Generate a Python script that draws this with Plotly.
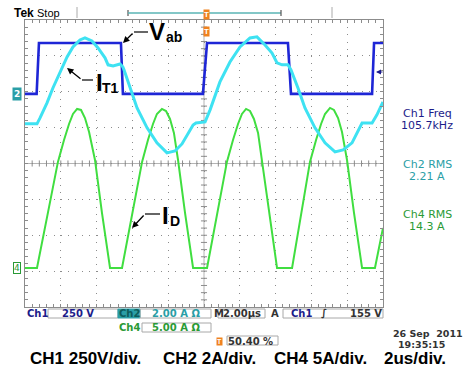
import plotly.graph_objects as go

# Scope: 2 us/div horizontally (10 div), 8 div vertically
CH1_SCALE = 250.0   # V/div
CH2_SCALE = 2.0     # A/div
CH4_SCALE = 5.0     # A/div
CH1_OFFSET = 1.94   # div, ground position
CH2_OFFSET = 1.94
CH4_OFFSET = -2.91

# Ch1: Vab (V)
vab_t = [0, 0.65, 0.78, 5.36, 5.47, 9.94, 10.17, 14.69, 14.86, 19.39, 19.50, 20.0]
vab_v = [0, 0, 355, 355, 0, 0, 355, 355, 0, 0, 355, 355]

# Ch2: I_T1 (A)
it1_t = [0, 0.67, 0.84, 1.23, 1.56, 1.96, 2.35, 2.68, 3.07, 3.35, 3.74, 4.08, 4.47, 4.64,
         4.92, 5.31, 5.47, 5.53, 5.87, 6.26, 6.82, 7.37, 7.93, 8.38, 8.77, 9.11, 9.39,
         9.55, 10.06, 10.34, 10.61, 10.89, 11.45, 12.01, 12.57, 12.96, 13.41, 13.80,
         14.08, 14.36, 14.69, 14.86, 15.25, 15.64, 16.20, 16.76, 17.32, 17.77, 18.27,
         18.72, 18.83, 19.39, 19.66, 20.0]
it1_a = [-1.67, -1.67, -1.34, -0.50, 0.33, 1.23, 2.06, 2.62, 3.01, 3.12, 2.95, 2.56, 2.01, 1.62,
         1.56, 1.67, 1.50, 1.34, 0.33, -0.78, -1.89, -2.73, -3.29, -3.18, -2.79, -2.23, -1.73,
         -1.62, -1.56, -0.89, -0.11, 0.67, 1.78, 2.62, 3.12, 3.18, 2.73, 2.28,
         1.73, 1.62, 1.62, 1.34, 0.33, -0.78, -1.89, -2.73, -3.23, -3.12, -2.73,
         -1.89, -1.62, -1.62, -1.17, -0.45]

# Ch4: I_D (A)
id_t = [0, 0.67, 1.29, 1.84, 2.18, 2.46, 2.68, 2.91, 3.13, 3.35, 3.58, 3.91, 4.30, 4.75,
        5.42, 5.98, 6.54, 6.87, 7.15, 7.37, 7.65, 7.88, 8.10, 8.32, 8.55, 8.94, 9.39,
        10.17, 10.73, 11.28, 11.62, 11.90, 12.12, 12.35, 12.57, 12.79, 13.02, 13.24, 13.63, 14.08,
        14.92, 15.42, 15.92, 16.26, 16.54, 16.76, 17.04, 17.26, 17.49, 17.71, 17.99, 18.38, 18.83,
        19.55, 20.0]
id_a = [0, 0, 7.80, 14.77, 17.83, 20.06, 21.45, 22.15, 22.01, 20.89, 18.94, 15.04, 7.66, 0,
        0, 7.38, 14.77, 17.83, 20.06, 21.45, 22.15, 21.87, 20.76, 18.81, 15.04, 7.66, 0,
        0, 7.38, 14.77, 17.83, 20.06, 21.45, 22.15, 21.87, 20.76, 18.81, 15.04, 7.66, 0,
        0, 7.38, 14.77, 17.83, 20.06, 21.45, 22.29, 22.01, 20.89, 18.94, 15.04, 7.66, 0,
        0, 5.57]

meas_labels = ["Ch1 Freq", "Ch2 RMS", "Ch4 RMS"]
meas_values = ["105.7kHz", "2.21 A", "14.3 A"]
caption = ["CH1 250V/div.", "CH2 2A/div.", "CH4 5A/div.", "2us/div."]

# ---------------- figure ----------------
W, H = 467, 371
L, R, T, B = 25, 84, 20, 64
PW, PH = W - L - R, H - T - B

def px(x):
    return (x - L) / PW

def py(y):
    return (H - B - y) / PH

C_BLUE = "#1e26d6"
C_CYAN = "#3ee2f2"
C_GREEN = "#40de40"
C_NAVY = "#1c1c8a"
C_TEAL = "#2a9ea6"
C_DGREEN = "#2a9a36"
C_ORANGE = "#f0821e"
FONT = "DejaVu Sans"

fig = go.Figure()
fig.add_trace(go.Scatter(x=id_t, y=[CH4_OFFSET + a / CH4_SCALE for a in id_a], mode="lines",
                         line=dict(color=C_GREEN, width=2), hoverinfo="skip"))
fig.add_trace(go.Scatter(x=vab_t, y=[CH1_OFFSET + v / CH1_SCALE for v in vab_v], mode="lines",
                         line=dict(color=C_BLUE, width=2.6), hoverinfo="skip"))
fig.add_trace(go.Scatter(x=it1_t, y=[CH2_OFFSET + a / CH2_SCALE for a in it1_a], mode="lines",
                         line=dict(color=C_CYAN, width=3), hoverinfo="skip"))

axis_common = dict(showticklabels=False, zeroline=False, showgrid=True, gridcolor="#8c8c8c",
                   gridwidth=1, ticks="inside", ticklen=3, tickcolor="#8c8c8c",
                   showline=True, linecolor="#8c8c8c", linewidth=1, mirror="allticks",
                   fixedrange=True)
fig.update_xaxes(range=[0, 20], tick0=0, dtick=2, griddash="1px,6.175px",
                 minor=dict(dtick=0.4, ticks="inside", ticklen=3, tickcolor="#8c8c8c", showgrid=False),
                 **axis_common)
fig.update_yaxes(range=[-4, 4], tick0=-4, dtick=1, griddash="1px,6.16px",
                 minor=dict(dtick=0.2, ticks="inside", ticklen=3, tickcolor="#8c8c8c", showgrid=False),
                 **axis_common)

shapes = []
# centre cross with tick marks
shapes.append(dict(type="line", xref="x", yref="y", x0=10, x1=10, y0=-4, y1=4,
                   line=dict(color="#b4b4b4", width=1), layer="below"))
shapes.append(dict(type="line", xref="x", yref="y", x0=0, x1=20, y0=0, y1=0,
                   line=dict(color="#b4b4b4", width=1), layer="below"))
for k in range(1, 50):
    xx = k * 0.4
    shapes.append(dict(type="line", xref="x", yref="y", x0=xx, x1=xx, y0=-0.085, y1=0.085,
                       line=dict(color="#8c8c8c", width=1), layer="below"))
for k in range(1, 40):
    yy = -4 + k * 0.2
    shapes.append(dict(type="line", xref="x", yref="y", x0=10 - 0.17, x1=10 + 0.17, y0=yy, y1=yy,
                       line=dict(color="#8c8c8c", width=1), layer="below"))

def pline(x0, y0, x1, y1, color="black", width=1.2):
    shapes.append(dict(type="line", xref="paper", yref="paper", x0=px(x0), y0=py(y0),
                       x1=px(x1), y1=py(y1), line=dict(color=color, width=width)))

def prect(x0, y0, x1, y1, line="#a8a8a8", fill="rgba(0,0,0,0)"):
    shapes.append(dict(type="rect", xref="paper", yref="paper", x0=px(x0), y0=py(y0),
                       x1=px(x1), y1=py(y1), line=dict(color=line, width=1), fillcolor=fill))

# top record bar
pline(128, 10, 128, 16, "#555555", 1.2)
pline(128, 13, 281, 13, "#5ab4b4", 1.5)
pline(281, 10, 281, 16, "#555555", 1.2)
pline(77, 7, 77, 18, "#aaaaaa", 1)
pline(332, 7, 332, 18, "#aaaaaa", 1)
# callout arrow lines
pline(134, 32, 148, 32)
pline(82, 80, 93, 80)
pline(145, 214, 160, 214)
# bottom boxes
prect(48, 309, 118, 318)
prect(118, 309, 140, 318, line=C_TEAL, fill=C_TEAL)
prect(140, 309, 211, 318)
prect(218, 309, 265, 318)
prect(283, 309, 383, 318)
prect(142, 323, 211, 332)
prect(227, 336, 278, 345)

annotations = []

def txt(x, y, s, size=10, color="black", family=FONT, xanchor="center", bold=False, **kw):
    if bold:
        s = "<b>" + s + "</b>"
    d = dict(x=px(x), y=py(y), xref="paper", yref="paper", text=s, showarrow=False,
             xanchor=xanchor, yanchor="middle", font=dict(size=size, color=color, family=family))
    d.update(kw)
    annotations.append(d)

def arrow(hx, hy, tx, ty):
    annotations.append(dict(x=px(hx), y=py(hy), xref="paper", yref="paper", ax=tx - hx, ay=ty - hy,
                            text="", showarrow=True, arrowhead=2, arrowsize=1, arrowwidth=1.3,
                            arrowcolor="black"))

# header
txt(12, 13, "Tek", size=12, family="Liberation Sans", bold=True, xanchor="left")
txt(35, 13, "Stop", size=11, family="Liberation Sans", xanchor="left")
txt(206, 15, "T", size=8, color="white", family="Liberation Sans", bold=True,
    bgcolor=C_ORANGE, borderpad=0)
txt(206, 32, "T", size=8, color="white", family="Liberation Sans", bold=True,
    bgcolor=C_ORANGE, borderpad=0)

# channel ground markers
txt(17, 94, "2", size=9, color="white", bold=True, bgcolor=C_TEAL, borderpad=1)
txt(17, 268, "4", size=9, color=C_DGREEN, bgcolor="white", bordercolor=C_DGREEN,
    borderwidth=1, borderpad=0)
# trigger level arrow
arrow(376, 72, 384, 72)
annotations[-1]["arrowcolor"] = C_NAVY
annotations[-1]["arrowwidth"] = 1

# callouts
txt(157, 31, "V", size=24, family="Liberation Sans", bold=True)
txt(174, 37, "ab", size=14, family="Liberation Sans", bold=True)
arrow(123, 43, 134, 32)
txt(99.5, 82, "I", size=24, family="Liberation Sans", bold=True)
txt(110, 88, "T1", size=14, family="Liberation Sans", bold=True)
arrow(67, 68, 82, 80)
txt(165.5, 215, "I", size=24, family="Liberation Sans", bold=True)
txt(174.5, 221, "D", size=14, family="Liberation Sans", bold=True)
arrow(132, 228, 145, 214)

# measurements
meas_cols = [C_NAVY, C_TEAL, C_DGREEN]
meas_y = [113, 164, 214]
for lab, val, col, yy in zip(meas_labels, meas_values, meas_cols, meas_y):
    txt(427, yy, lab, size=11, color=col)
    txt(427, yy + 12, val, size=11, color=col)

# bottom readouts
txt(25, 313, "Ch1", size=10, color=C_NAVY, bold=True, xanchor="left")
txt(78, 313, "250 V", size=10, color=C_NAVY, bold=True)
txt(129, 313, "Ch2", size=10, color="#0d5c5c", bold=True)
txt(176, 313, "2.00 A Ω", size=10, color=C_TEAL, bold=True)
txt(212, 313, "M", size=10, color="#333333", bold=True, xanchor="left")
txt(242, 313, "2.00µs", size=10, color="#333333", bold=True)
txt(275, 313, "A", size=10, color="#333333", bold=True)
txt(301, 313, "Ch1", size=10, color=C_NAVY, bold=True)
txt(324, 313, "∫", size=10, color="#333333", bold=True)
txt(366, 313, "155 V", size=10, color="#333333", bold=True)
txt(129, 327, "Ch4", size=10, color=C_DGREEN, bold=True)
txt(176, 327, "5.00 A Ω", size=10, color=C_DGREEN, bold=True)
txt(220, 341, "T", size=7, color="white", family="Liberation Sans", bold=True,
    bgcolor=C_ORANGE, borderpad=0)
txt(250, 341, "50.40 %", size=10, color="#333333", bold=True)
txt(428, 334, "26 Sep  2011", size=9.5, color="#333333", bold=True)
txt(421, 344, "19:35:15", size=9.5, color="#333333", bold=True)

# caption
cap_x = [85, 209, 320, 415]
for s, cx in zip(caption, cap_x):
    txt(cx, 358, s, size=17, family="Liberation Sans", bold=True)

fig.update_layout(width=W, height=H, margin=dict(l=L, r=R, t=T, b=B),
                  paper_bgcolor="white", plot_bgcolor="white", showlegend=False,
                  shapes=shapes, annotations=annotations)

fig.write_html("out.html", config={"displayModeBar": False, "staticPlot": True},
               post_script="document.body.style.margin='0';document.body.style.padding='0';")
